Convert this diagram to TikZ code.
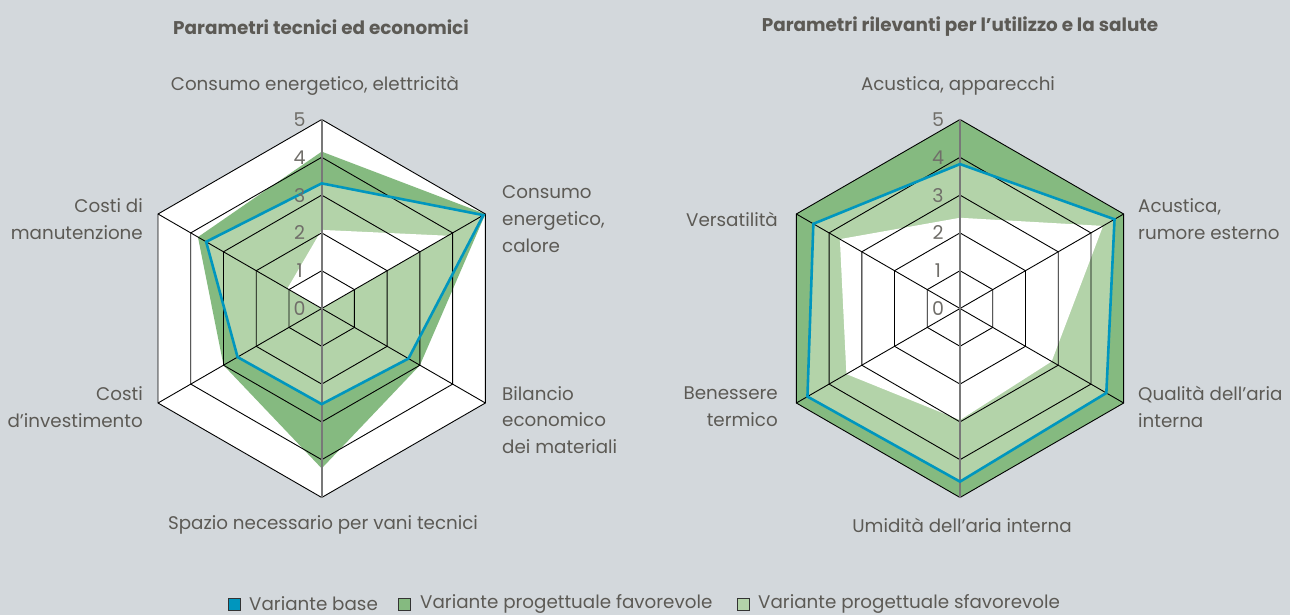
\documentclass[tikz,border=0pt]{standalone}
\usepackage{fontspec}
\setmainfont{Poppins}
\definecolor{bgc}{RGB}{211,216,220}
\definecolor{favc}{RGB}{133,186,128}
\definecolor{basec}{RGB}{179,211,169}
\definecolor{bluec}{RGB}{0,150,190}
\definecolor{txtc}{RGB}{92,90,85}
\definecolor{numc}{RGB}{112,110,105}
\definecolor{axc}{RGB}{120,120,120}
\def\un{37.8}
\newcommand{\hexpath}[6]{(-90:{#1*\un}) -- (-30:{#2*\un}) -- (30:{#3*\un}) -- (90:{#4*\un}) -- (150:{#5*\un}) -- (210:{#6*\un}) -- cycle}
\begin{document}
\begin{tikzpicture}[x=1pt,y=-1pt,
  gridline/.style={draw=black,line width=0.9pt},
  vaxis/.style={draw=axc,line width=1.8pt},
  basestroke/.style={draw=bluec,line width=2.6pt,line join=miter},
  lab/.style={font=\fontsize{18.3}{26.8}\selectfont,text=txtc,inner sep=0pt},
  ttl/.style={font=\fontsize{18.4}{22}\selectfont\bfseries,text=txtc,inner sep=0pt},
  num/.style={font=\fontsize{19}{22}\selectfont,text=numc,inner sep=0pt},
  sq/.style={draw=black!80,line width=0.8pt,minimum size=12pt,inner sep=0pt}]
\fill[bgc] (0,0) rectangle (1290,615);
\useasboundingbox (0,0) rectangle (1290,615);

% ---------- left chart ----------
\begin{scope}[shift={(321.7,308.5)}]
\fill[white] \hexpath{5}{5}{5}{5}{5}{5};
\fill[favc] \hexpath{4.15}{5}{3.0}{4.23}{3.0}{3.78};
\fill[basec] \hexpath{3.31}{4.94}{2.65}{2.53}{2.57}{3.53};
\fill[white] \hexpath{2.08}{3.85}{0}{0}{0}{1.05};
\foreach \r in {1,...,5} \draw[gridline] \hexpath{\r}{\r}{\r}{\r}{\r}{\r};
\foreach \a in {-30,30,150,210} \draw[gridline] (0,0) -- (\a:{5*\un});
\draw[vaxis] (-90:{5*\un}) -- (90:{5*\un});
\draw[basestroke] \hexpath{3.31}{4.94}{2.65}{2.53}{2.57}{3.53};
\foreach \r in {0,...,5} \node[num] (L\r) at (-22,{-\r*\un}) {\r};
\end{scope}

% ---------- right chart ----------
\begin{scope}[shift={(960,308.5)}]
\fill[favc] \hexpath{5}{5}{5}{5}{5}{5};
\fill[basec] \hexpath{3.82}{4.72}{4.47}{4.58}{4.66}{4.48};
\fill[white] \hexpath{2.4}{4.37}{2.8}{2.95}{3.47}{3.67};
\foreach \r in {1,...,5} \draw[gridline] \hexpath{\r}{\r}{\r}{\r}{\r}{\r};
\foreach \a in {-30,30,150,210} \draw[gridline] (0,0) -- (\a:{5*\un});
\draw[vaxis] (-90:{5*\un}) -- (90:{5*\un});
\draw[basestroke] \hexpath{3.82}{4.72}{4.47}{4.58}{4.66}{4.48};
\foreach \r in {0,...,5} \node[num] (R\r) at (-22,{-\r*\un}) {\r};
\end{scope}

% ---------- titles ----------
\node[ttl] (t1) at (321,27) {Parametri tecnici ed economici};
\node[ttl] (t2) at (960,27) {Parametri rilevanti per l’utilizzo e la salute};

% ---------- left labels ----------
\node[lab] (la0) at (315,86) {Consumo energetico, elettricità};
\node[lab,anchor=west,align=left] (la1) at (502,219) {Consumo\\energetico,\\calore};
\node[lab,anchor=west,align=left] (la2) at (502,420) {Bilancio\\economico\\dei materiali};
\node[lab] (la3) at (323,525) {Spazio necessario per vani tecnici};
\node[lab,anchor=east,align=right] (la4) at (143,407) {Costi\\d’investimento};
\node[lab,anchor=east,align=right] (la5) at (143,219) {Costi di\\manutenzione};

% ---------- right labels ----------
\node[lab] (ra0) at (958,86) {Acustica, apparecchi};
\node[lab,anchor=west,align=left] (ra1) at (1138,219) {Acustica,\\rumore esterno};
\node[lab,anchor=west,align=left] (ra2) at (1138,407) {Qualità dell’aria\\interna};
\node[lab] (ra3) at (962,525) {Umidità dell’aria interna};
\node[lab,anchor=east,align=right] (ra4) at (778,407) {Benessere\\termico};
\node[lab,anchor=east,align=right] (ra5) at (778,219) {Versatilità};

% ---------- legend ----------
\node[sq,fill=bluec] (s1) at (234.5,604) {};
\node[lab,anchor=west] (g1) at (249,604) {Variante base};
\node[sq,fill=favc] (s2) at (404.5,604) {};
\node[lab,anchor=west] (g2) at (420,604) {Variante progettuale favorevole};
\node[sq,fill=basec] (s3) at (743.5,604) {};
\node[lab,anchor=west] (g3) at (758,604) {Variante progettuale sfavorevole};
\end{tikzpicture}
\end{document}
